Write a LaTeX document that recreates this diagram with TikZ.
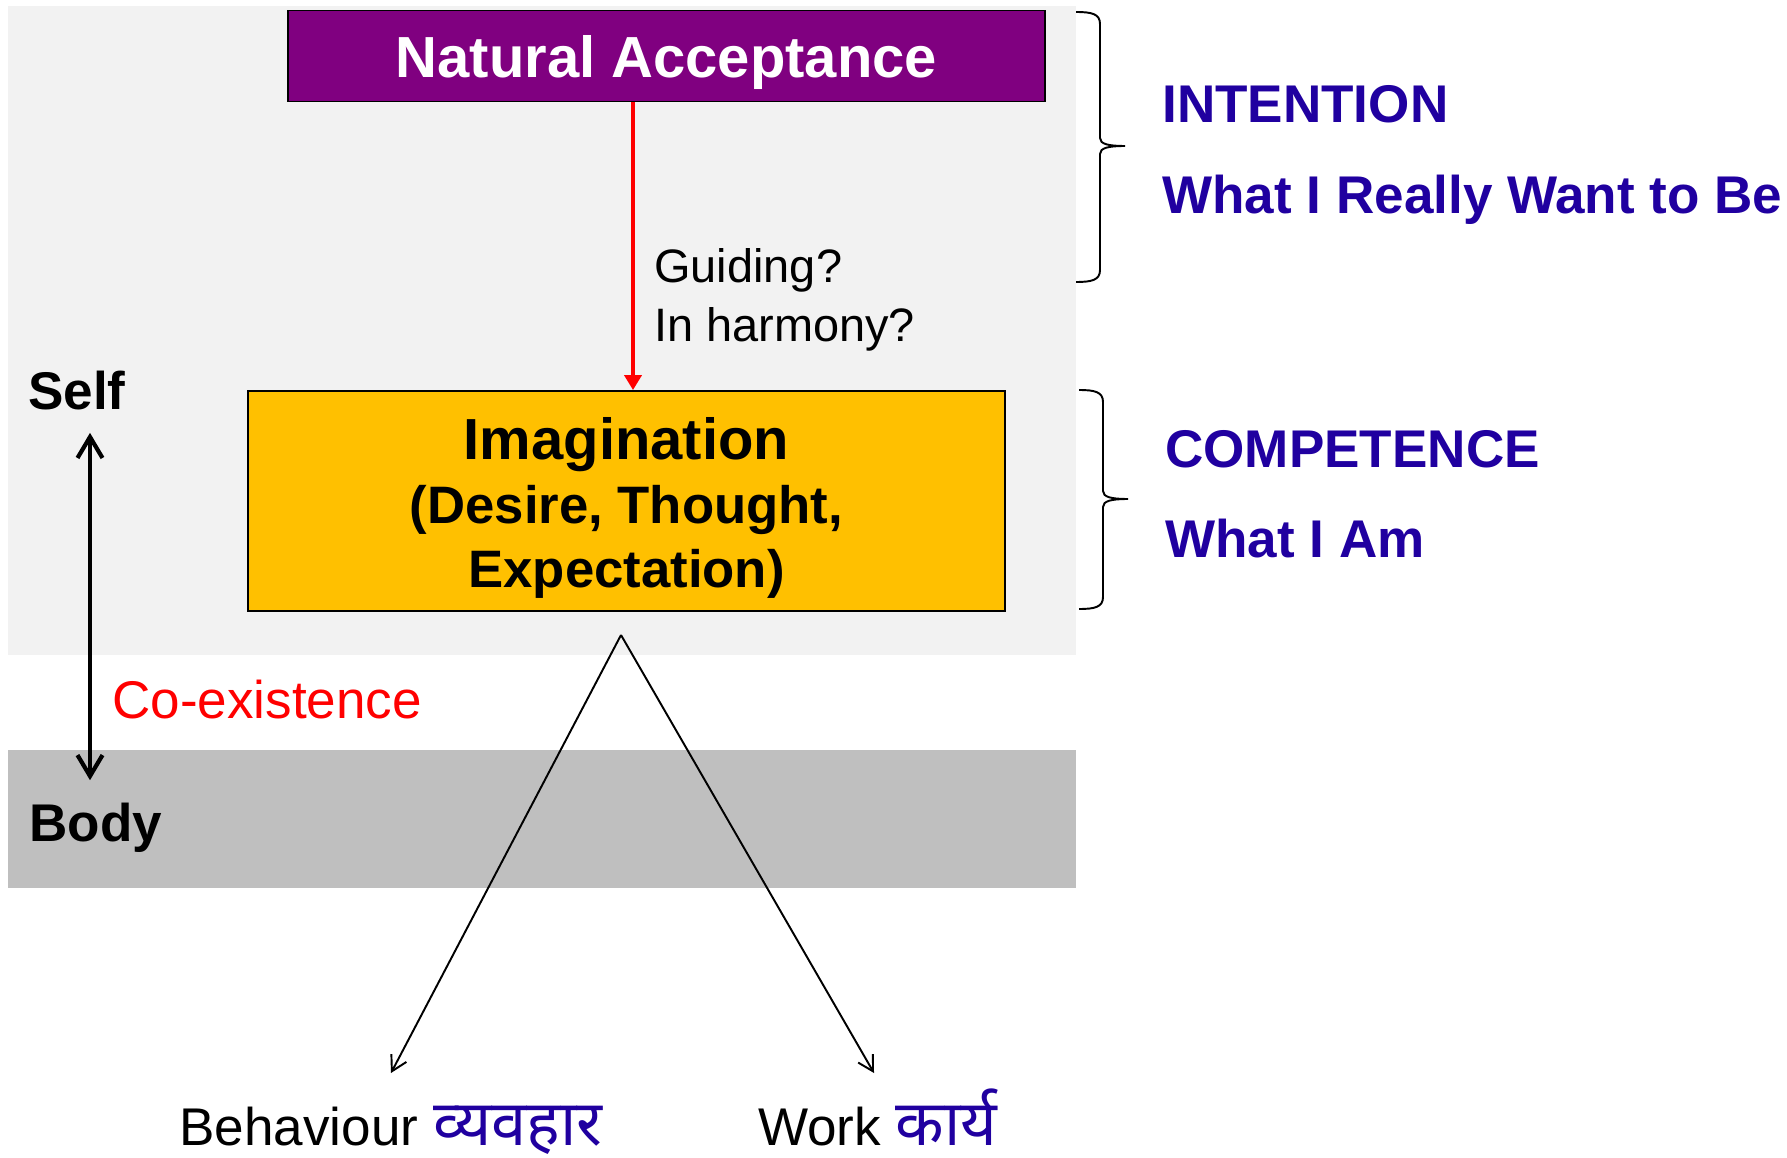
\documentclass[tikz,border=0pt]{standalone}
\usepackage{fontspec}
\setmainfont{Liberation Sans}
\newfontfamily\devfont[Script=Devanagari]{Noto Sans}
\usetikzlibrary{arrows.meta}

\definecolor{napurple}{RGB}{128,0,128}
\definecolor{imyellow}{RGB}{255,192,0}
\definecolor{selfgrey}{RGB}{242,242,242}
\definecolor{bodygrey}{RGB}{191,191,191}
\definecolor{tagblue}{RGB}{32,0,160}

% right-hand curly brace: back x, top y, bottom y, tip y
\newcommand{\sidebrace}[4]{%
  \draw[line width=1.1pt]
    (#1,#2) .. controls (#1+16,#2) and (#1+24,#2+2) .. (#1+24,#2+12)
    -- (#1+24,#4-8) .. controls (#1+24,#4-2) and (#1+32,#4) .. (#1+49,#4)
    .. controls (#1+32,#4) and (#1+24,#4+2) .. (#1+24,#4+8)
    -- (#1+24,#3-12) .. controls (#1+24,#3-2) and (#1+16,#3) .. (#1,#3);}
\newcommand{\hindi}[1]{\textcolor{tagblue}{\devfont\fontsize{36}{40}\selectfont #1}}

\begin{document}
\begin{tikzpicture}[x=0.02cm, y=-0.02cm,
  box/.style={draw=black, line width=1.1pt, rectangle, inner sep=0pt,
    minimum width=15.14cm, align=center},
  tag/.style={anchor=base west, inner sep=0pt, text=tagblue,
    font=\fontsize{30.2}{34}\selectfont\bfseries},
  lbl/.style={anchor=base west, inner sep=0pt, font=\fontsize{30.2}{34}\selectfont}]
\useasboundingbox (0,0) rectangle (1787,1158);

% self and body areas
\fill[selfgrey] (8,6) rectangle (1076,655);
\fill[bodygrey] (8,750) rectangle (1076,888);

\node[box, fill=napurple, text=white, minimum height=1.82cm, text height=0.88cm, text depth=0cm,
  font=\fontsize{33}{37}\selectfont\bfseries] (na) at (666.5,56) {Natural Acceptance};
\node[box, fill=imyellow, minimum height=4.4cm, text height=3.48cm, text depth=0cm,
  font=\fontsize{33}{36.7}\selectfont\bfseries] (imag) at (626.5,501)
  {Imagination\\\fontsize{30}{36.7}\selectfont(Desire, Thought,\\\fontsize{30}{36.7}\selectfont Expectation)};

\node[anchor=west, inner sep=0pt, align=left,
  font=\fontsize{26.7}{33.6}\selectfont] (guide) at (654,300) {Guiding?\\In harmony?};

\node[lbl, font=\fontsize{30.2}{34}\selectfont\bfseries] (self) at (28,410) {Self};
\node[lbl, font=\fontsize{30.2}{34}\selectfont\bfseries] (body) at (29,841) {Body};
\node[lbl, text=red] (coex) at (112,718) {Co-existence};

\node[tag] (intent) at (1162,123) {INTENTION};
\node[tag] (want) at (1162,213.5) {What I Really Want to Be};
\node[tag] (compet) at (1165,467) {COMPETENCE};
\node[tag] (am) at (1165,557) {What I Am};

\node[lbl] (beh) at (179,1145) {Behaviour \hindi{व्यवहार}};
\node[lbl] (work) at (758,1145) {Work \hindi{कार्य}};

\coordinate (apex) at (621,635);
\coordinate (behtip) at (391,1073);
\coordinate (worktip) at (874,1073);

\draw[red, line width=2.2pt, -{Triangle[length=0.3cm, width=0.34cm]}]
  (633,0 |- na.south) -- (633,0 |- imag.north);
\draw[line width=2.4pt, {Straight Barb[length=0.42cm, width=0.5cm]}-{Straight Barb[length=0.42cm, width=0.5cm]},
  shorten <=0.44cm, shorten >=0.44cm] (self.south -| 90,0) -- (body.north -| 90,0);
\draw[line width=1.1pt, -{Straight Barb[length=0.3cm, width=0.34cm]}] (apex) -- (behtip);
\draw[line width=1.1pt, -{Straight Barb[length=0.3cm, width=0.34cm]}] (apex) -- (worktip);

\sidebrace{1076}{12}{282}{146}
\sidebrace{1079}{390}{609}{499}
\end{tikzpicture}
\end{document}
